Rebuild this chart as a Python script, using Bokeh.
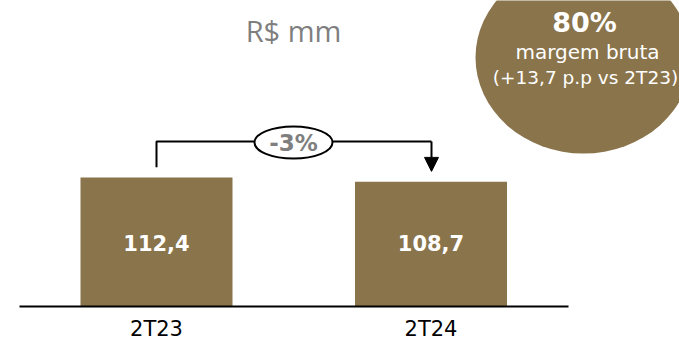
from bokeh.plotting import figure
from bokeh.models import Range1d, Arrow, NormalHead
from bokeh.core.properties import value
from bokeh.embed import file_html
from bokeh.resources import INLINE

# Data
periods = ["2T23", "2T24"]
revenue = [112.4, 108.7]
revenue_labels = ["112,4", "108,7"]
change_label = "-3%"
margin_value = "80%"
margin_lines = ["margem bruta", "(+13,7 p.p vs 2T23)"]
unit_title = "R$ mm"

BROWN = "#8a744b"
GRAY = "#7f7f7f"
FONT = "DejaVu Sans"

W, H = 679, 341
PX_PER_UNIT = 1.148
BASE_PX = 306  # baseline, pixels from top

p = figure(width=W, height=H, output_backend="svg", toolbar_location=None,
           min_border=0, outline_line_color=None)
p.x_range = Range1d(0, W)
p.y_range = Range1d(-(H - BASE_PX) / PX_PER_UNIT, BASE_PX / PX_PER_UNIT)
p.axis.visible = False
p.grid.visible = False
p.background_fill_color = "white"
p.border_fill_color = "white"

def yv(px):
    # value-space y for a position given in pixels from the top
    return (BASE_PX - px) / PX_PER_UNIT

bar_x = [156, 430.5]
bar_w = 152

# Margin bubble
p.ellipse(x=583, y=yv(57), width=216, height=192 / PX_PER_UNIT,
          fill_color=BROWN, line_color=None)
p.text(x=[584], y=[yv(22)], text=[margin_value], text_color="white",
       text_font=value(FONT), text_font_style="bold", text_font_size="27px",
       text_align="center", text_baseline="middle")
p.text(x=[587], y=[yv(51)], text=[margin_lines[0]], text_color="white",
       text_font=value(FONT), text_font_size="20px",
       text_align="center", text_baseline="middle")
p.text(x=[585], y=[yv(77)], text=[margin_lines[1]], text_color="white",
       text_font=value(FONT), text_font_size="18.5px",
       text_align="center", text_baseline="middle")

# Unit title
p.text(x=[293], y=[yv(30)], text=[unit_title], text_color=GRAY,
       text_font=value("Open Sans"), text_font_size="29px",
       text_align="center", text_baseline="middle")

# Bars
p.vbar(x=bar_x, top=revenue, bottom=0, width=bar_w,
       fill_color=BROWN, line_color=None)
p.text(x=bar_x, y=[yv(242)] * 2, text=revenue_labels, text_color="white",
       text_font=value(FONT), text_font_style="bold", text_font_size="21px",
       text_align="center", text_baseline="middle")

# Baseline
p.segment(x0=[19], y0=[0], x1=[568], y1=[0], line_color="black", line_width=2)

# Category labels
p.text(x=bar_x, y=[yv(328)] * 2, text=periods, text_color="black",
       text_font=value(FONT), text_font_size="21px",
       text_align="center", text_baseline="middle")

# Change bracket from first bar to second bar
gap = 9
bracket_y = yv(141)
p.line(x=[bar_x[0], bar_x[0], 431], y=[revenue[0] + gap, bracket_y, bracket_y],
       line_color="black", line_width=2)
p.add_layout(Arrow(x_start=431, y_start=bracket_y, x_end=431, y_end=revenue[1] + gap,
                   line_color="black", line_width=2,
                   end=NormalHead(size=14, fill_color="black", line_color="black")))
p.ellipse(x=293, y=yv(142), width=78, height=32 / PX_PER_UNIT,
          fill_color="white", line_color="black", line_width=2)
p.text(x=[293], y=[yv(142)], text=[change_label], text_color=GRAY,
       text_font=value(FONT), text_font_style="bold", text_font_size="23px",
       text_align="center", text_baseline="middle")

open("out.html", "w").write(file_html(p, INLINE))
